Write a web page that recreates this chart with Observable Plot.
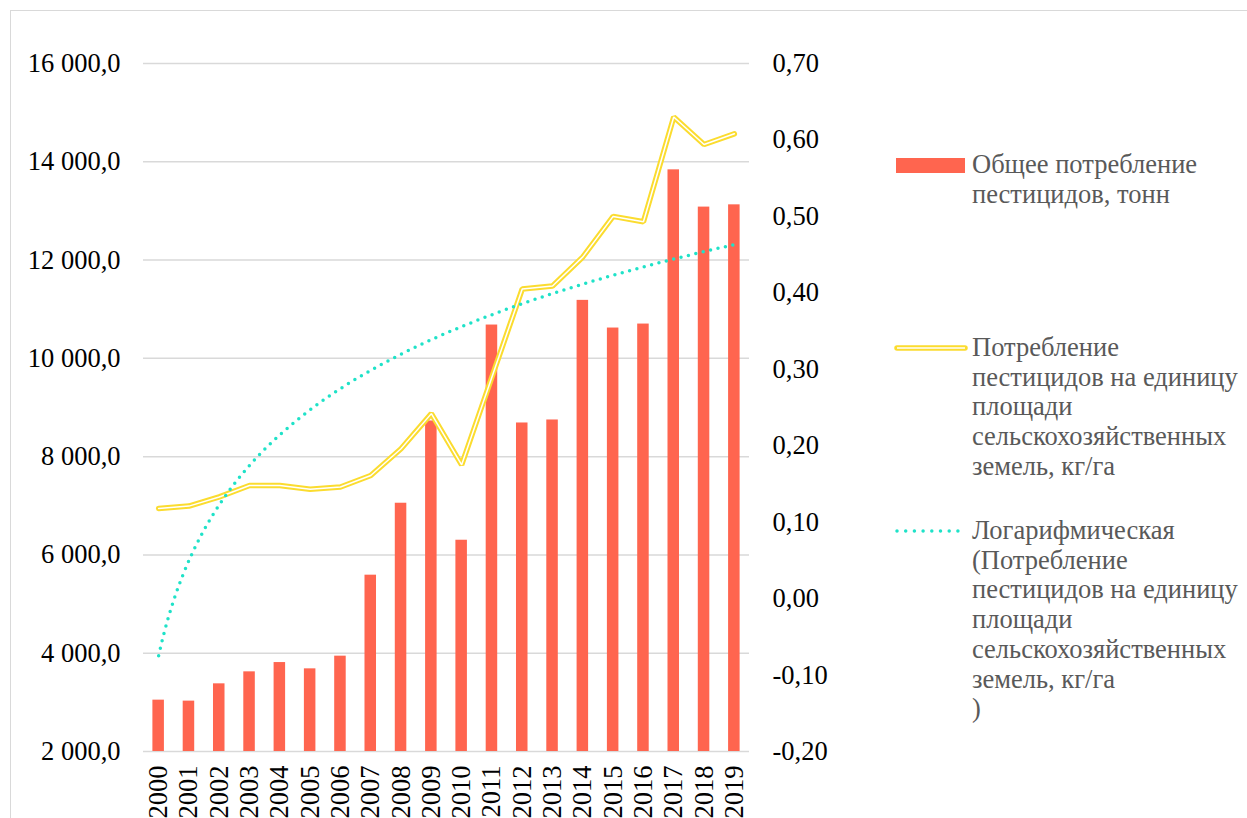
<!DOCTYPE html>
<html>
<head>
<meta charset="utf-8">
<script src="https://cdn.jsdelivr.net/npm/d3@7"></script>
<script src="https://cdn.jsdelivr.net/npm/@observablehq/plot@0.6"></script>
<style>
  html, body { margin: 0; padding: 0; background: #fff; overflow: hidden; }
  body { width: 1247px; height: 818px; position: relative; font-family: 'Liberation Serif', serif; }
  #frame { position: absolute; left: 10px; top: 10px; width: 1400px; height: 1000px; border: 1.5px solid #d9d9d9; box-sizing: border-box; }
  #chart { position: absolute; left: 0; top: 0; }
  #legend { position: absolute; left: 0; top: 0; }
  .swatch { position: absolute; left: 893px; }
  .txt { position: absolute; left: 972px; font-family: 'Liberation Serif', serif; font-size: 26.5px; line-height: 29.7px; color: #595959; white-space: nowrap; }
</style>
</head>
<body>
<div id="frame"></div>
<div id="chart"></div>
<div id="legend"></div>
<script>
// Pesticide use, 2000–2019
const years = [2000, 2001, 2002, 2003, 2004, 2005, 2006, 2007, 2008, 2009,
               2010, 2011, 2012, 2013, 2014, 2015, 2016, 2017, 2018, 2019];
// total consumption, tonnes (left axis)
const totals = [3045, 3025, 3377, 3621, 3810, 3682, 3940, 5588, 7052, 8726,
                6299, 10678, 8685, 8746, 11180, 10617, 10698, 13836, 13078, 13124];
// consumption per hectare of farmland, kg/ha (right axis)
const perHa = [0.118, 0.121, 0.133, 0.148, 0.148, 0.143, 0.146, 0.161, 0.196, 0.242,
               0.175, 0.290, 0.405, 0.409, 0.447, 0.500, 0.493, 0.630, 0.594, 0.608];

const leftTicks = [2000, 4000, 6000, 8000, 10000, 12000, 14000, 16000];
const rightTicks = [-0.2, -0.1, 0, 0.1, 0.2, 0.3, 0.4, 0.5, 0.6, 0.7];

const legendLabels = [
  ["Общее потребление", "пестицидов, тонн"],
  ["Потребление", "пестицидов на единицу", "площади", "сельскохозяйственных", "земель, кг/га"],
  ["Логарифмическая", "(Потребление", "пестицидов на единицу", "площади", "сельскохозяйственных", "земель, кг/га", ")"]
];

const colors = { bar: "#ff654f", line: "#fbdc2f", trend: "#1fe2c8", grid: "#d9d9d9" };
const serif = "'Liberation Serif', serif";

// secondary axis mapped onto the primary one
const leftDomain = [2000, 16000], rightDomain = [-0.2, 0.7];
const toLeft = v => leftDomain[0] + (v - rightDomain[0]) / (rightDomain[1] - rightDomain[0]) * (leftDomain[1] - leftDomain[0]);
const fromLeft = v => rightDomain[0] + (v - leftDomain[0]) / (leftDomain[1] - leftDomain[0]) * (rightDomain[1] - rightDomain[0]);

const locale = d3.formatLocale({ decimal: ",", thousands: "\u00a0", grouping: [3], currency: ["", ""], minus: "-" });
const fmtLeft = locale.format(",.1f");
const fmtRight = locale.format(".2f");

const rows = years.map((year, i) => ({ year, total: totals[i], perHa: perHa[i] }));

// logarithmic trend: perHa ≈ a·ln(n) + b, n = 1..20
const lnN = years.map((_, i) => Math.log(i + 1));
const mx = d3.mean(lnN), my = d3.mean(perHa);
const a = d3.sum(lnN, (x, i) => (x - mx) * (perHa[i] - my)) / d3.sum(lnN, x => (x - mx) ** 2);
const b = my - a * mx;
const trend = d3.range(1, years.length + 0.001, 0.05).map(n => ({ year: years[0] - 1 + n, value: a * Math.log(n) + b }));

const barHalf = 0.19;

const chart = Plot.plot({
  width: 1247,
  height: 818,
  marginLeft: 143,
  marginRight: 498,
  marginTop: 63,
  marginBottom: 67,
  x: { domain: [years[0] - 0.5, years[years.length - 1] + 0.5], label: null },
  y: { domain: leftDomain, label: null },
  style: { fontFamily: serif, fontSize: "26.5px", background: "transparent", color: "#000" },
  marks: [
    Plot.gridY(leftTicks, { stroke: colors.grid, strokeOpacity: 1, strokeWidth: 1.5 }),
    Plot.rect(rows, { x1: d => d.year - barHalf, x2: d => d.year + barHalf, y1: leftDomain[0], y2: "total", fill: colors.bar }),
    Plot.line(rows, { x: "year", y: d => toLeft(d.perHa), stroke: colors.line, strokeWidth: 5.5, strokeLinejoin: "miter", strokeLinecap: "round" }),
    Plot.line(rows, { x: "year", y: d => toLeft(d.perHa), stroke: "#fff", strokeWidth: 1.5, strokeLinejoin: "miter" }),
    Plot.line(trend, { x: "year", y: d => toLeft(d.value), stroke: colors.trend, strokeWidth: 3.5, strokeDasharray: "0 7.6", strokeLinecap: "round" }),
    Plot.axisY(leftTicks, { anchor: "left", tickSize: 0, tickPadding: 23, tickFormat: fmtLeft, label: null, fontFamily: serif }),
    Plot.axisY(rightTicks.map(toLeft), { anchor: "right", tickSize: 0, tickPadding: 23, tickFormat: d => fmtRight(fromLeft(d)), label: null, fontFamily: serif }),
    Plot.axisX(years, { anchor: "bottom", tickSize: 0, tickPadding: 14, tickRotate: -90, tickFormat: d => String(d), label: null, fontFamily: serif })
  ]
});
document.getElementById("chart").appendChild(chart);

// legend: swatch + wrapped label, one block per series
const legend = document.getElementById("legend");
const legendTops = [165, 348, 531]; // centre of each first line
const swatches = [
  `<svg width="76" height="20"><rect x="3" y="3" width="69" height="15" fill="${colors.bar}"/></svg>`,
  `<svg width="76" height="20"><line x1="4" x2="72" y1="10" y2="10" stroke="${colors.line}" stroke-width="5.5" stroke-linecap="round"/><line x1="4" x2="72" y1="10" y2="10" stroke="#fff" stroke-width="1.5"/></svg>`,
  `<svg width="76" height="20"><line x1="4" x2="72" y1="10" y2="10" stroke="${colors.trend}" stroke-width="3.5" stroke-dasharray="0 8.7" stroke-linecap="round"/></svg>`
];
legendLabels.forEach((lines, i) => {
  const sw = document.createElement("div");
  sw.className = "swatch";
  sw.style.top = (legendTops[i] - 10) + "px";
  sw.innerHTML = swatches[i];
  legend.appendChild(sw);
  const t = document.createElement("div");
  t.className = "txt";
  t.style.top = (legendTops[i] - 15) + "px";
  t.innerHTML = lines.map(s => `<div>${s}</div>`).join("");
  legend.appendChild(t);
});
</script>
</body>
</html>
